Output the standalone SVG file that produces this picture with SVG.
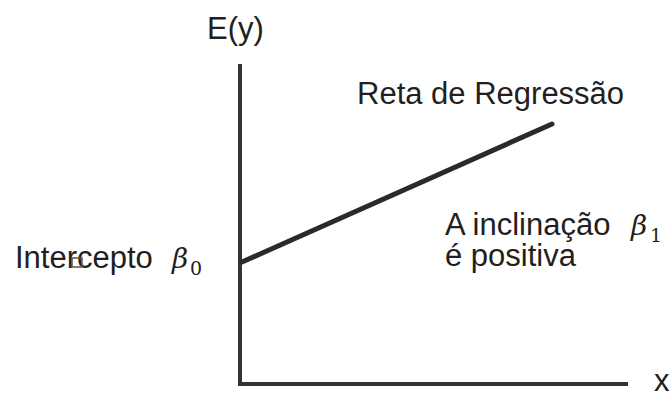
<svg xmlns="http://www.w3.org/2000/svg" width="672" height="394" viewBox="0 0 672 394">
<style>
.t{font-family:"Liberation Sans",Arial,sans-serif;font-size:31px;fill:#231f20}
.m{font-family:"DejaVu Serif","Liberation Serif",serif;font-style:italic;font-size:28px;fill:#231f20}
.s{font-family:"DejaVu Serif","Liberation Serif",serif;font-size:19px;fill:#231f20}
.ax{stroke:#333;stroke-width:4;fill:none}
</style>
<rect width="672" height="394" fill="#fff"/>
<g id="axes">
<polyline class="ax" points="240,64 240,384 628,384"/>
</g>
<g id="connectors">
<line x1="242" y1="262" x2="552" y2="124" stroke="#2a2a2a" stroke-width="5" stroke-linecap="round"/>
</g>
<g id="ylabel"><text class="t" x="207" y="39" font-size="30">E(y)</text></g>
<g id="xlabel"><text class="t" x="654" y="391" font-size="29">x</text></g>
<g id="reta"><text class="t" x="357" y="104">Reta de Regressão</text></g>
<g id="inclinacao">
<text class="t" x="445" y="235" font-size="30.5">A inclinação</text>
<text class="m" x="631" y="235">β</text><text class="s" x="650" y="242">1</text>
<text class="t" x="445" y="266" font-size="30.5">é positiva</text>
</g>
<g id="intercepto">
<text class="t" x="15" y="268" font-size="30">Intercepto</text>
<rect x="72" y="258" width="10" height="9" fill="none" stroke="#555" stroke-width="1.5"/>
<text class="m" x="172" y="268">β</text><text class="s" x="190" y="275">0</text>
</g>
</svg>
